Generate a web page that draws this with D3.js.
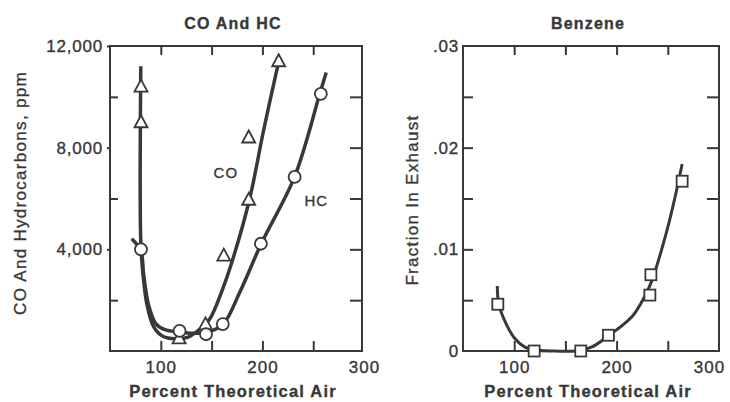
<!DOCTYPE html>
<html>
<head>
<meta charset="utf-8">
<script src="https://cdn.jsdelivr.net/npm/d3@7"></script>
<style>
  html, body { margin: 0; padding: 0; background: #fff; }
  svg { display: block; font-family: "Liberation Sans", Arial, sans-serif; }
</style>
</head>
<body>
<svg id="chart" width="730" height="402"></svg>
<script>
// Values
const airTickLabels = [100, 200, 300];
const airMinorTicks = [100, 150, 200, 250];

const ppmTickLabels = [4000, 8000, 12000];
const ppmInnerLeft = [2000, 6000, 10000];
const ppmInnerRight = [2000, 4000, 6000, 8000, 10000];

const benzTickLabels = [0, 0.01, 0.02, 0.03];
const benzInnerTicks = [0.005, 0.01, 0.015, 0.02, 0.025];

// CO (triangles) and HC (circles), ppm
const coMarkers = [[80.5, 10400], [80.5, 9000], [118, 500], [144, 1050], [162, 3750], [186.5, 8400], [186.5, 5950], [216, 11400]];
const hcMarkers = [[80.5, 4000], [118.5, 790], [144.5, 660], [161, 1060], [198.5, 4220], [231.7, 6850], [257.5, 10120]];

const coCurve = [[80.3, 11200], [80.3, 4300], [82.5, 3000], [86.5, 1800], [93, 950], [102, 580], [114, 480], [127, 550], [139, 880], [148, 1250], [160, 2350], [171, 3630], [187.5, 6000], [201, 8650], [215.5, 11300]];
const hcCurve = [[71.3, 4420], [80.3, 3950], [83, 3050], [88, 1800], [95, 1080], [104, 840], [118, 750], [132, 700], [145, 730], [161.3, 1055], [177.7, 2310], [198.9, 4225], [231.7, 6860], [256.3, 10100], [262.8, 10960]];

// Benzene (squares), fraction in exhaust
const benzMarkers = [[84, 0.0046], [119.5, 0], [165, 0], [192, 0.00155], [232.5, 0.0055], [233.5, 0.0075], [264, 0.0167]];
const benzCurve = [[83.5, 0.0064], [85, 0.0046], [92, 0.0027], [100, 0.0013], [110, 0.0004], [120, 0.0001], [140, 0], [160, 0], [176, 0.0004], [192, 0.0015], [204, 0.0024], [216, 0.0035], [226, 0.0051], [234, 0.0068], [249, 0.0118], [257, 0.0151], [264, 0.0184]];

const ink = "#383838";
const svg = d3.select("#chart");

function stripZero(d) {
    return d === 0 ? "0" : d3.format(".2f")(d).replace(/^0/, "");
}

// scanned print is heavy, so text gets a thin outline
function inked(sel, size, spacing) {
    return sel.attr("fill", ink).attr("stroke", ink).attr("stroke-width", 0.35)
        .attr("font-size", size).attr("letter-spacing", spacing)
        .attr("font-family", "Liberation Sans, Arial, sans-serif");
}

function drawPanel(cfg) {
    const x = d3.scaleLinear().domain(cfg.xDomain).range([cfg.left, cfg.right]);
    const y = d3.scaleLinear().domain(cfg.yDomain).range([cfg.bottom, cfg.top]);
    const g = svg.append("g");

    // inner ticks on all four sides
    const inner = [
        [d3.axisTop(x).tickValues(airMinorTicks).tickSize(-9), `translate(0,${cfg.top})`],
        [d3.axisBottom(x).tickValues(airMinorTicks).tickSize(-10), `translate(0,${cfg.bottom})`],
        [d3.axisLeft(y).tickValues(cfg.innerLeft).tickSize(-cfg.leftTick), `translate(${cfg.left},0)`],
        [d3.axisRight(y).tickValues(cfg.innerRight).tickSize(-12), `translate(${cfg.right},0)`]
    ];
    inner.forEach(([axis, tr]) => {
        g.append("g").attr("transform", tr)
            .call(axis.tickFormat(""))
            .call(a => a.select(".domain").remove())
            .call(a => a.selectAll("line").attr("stroke", ink).attr("stroke-width", 2));
    });

    // labelled x axis
    g.append("g").attr("transform", `translate(0,${cfg.bottom})`)
        .call(d3.axisBottom(x).tickValues(airTickLabels).tickSize(0).tickPadding(10))
        .call(a => a.select(".domain").remove())
        .call(a => inked(a.selectAll("text"), 17, 1)
            .attr("dx", d => d === 300 ? cfg.lastDx : 0));

    // labelled y axis
    g.append("g").attr("transform", `translate(${cfg.left},0)`)
        .call(d3.axisLeft(y).tickValues(cfg.yLabels).tickSize(cfg.outTick).tickPadding(4).tickFormat(cfg.yFormat))
        .call(a => a.select(".domain").remove())
        .call(a => a.selectAll("line").attr("stroke", ink).attr("stroke-width", 2))
        .call(a => inked(a.selectAll("text"), 17, 0.8));

    // frame
    g.append("rect")
        .attr("x", cfg.left).attr("y", cfg.top)
        .attr("width", cfg.right - cfg.left).attr("height", cfg.bottom - cfg.top)
        .attr("fill", "none").attr("stroke", ink).attr("stroke-width", 2);

    // titles
    inked(g.append("text"), 16, 1.2)
        .attr("x", cfg.titleX).attr("y", 29)
        .attr("text-anchor", "middle").attr("font-weight", "bold")
        .text(cfg.title);
    inked(g.append("text"), 16.5, 1.2)
        .attr("x", cfg.titleX).attr("y", 397)
        .attr("text-anchor", "middle").attr("font-weight", "bold")
        .text("Percent Theoretical Air");
    inked(g.append("text"), 17, 1.3)
        .attr("transform", `translate(${cfg.yLabelX},${cfg.yLabelY}) rotate(-90)`)
        .attr("text-anchor", "middle")
        .text(cfg.yLabel);

    return { g, x, y };
}

const line = (x, y) => d3.line().x(d => x(d[0])).y(d => y(d[1])).curve(d3.curveCatmullRom.alpha(0.5));

// ---- CO and HC panel ----
const left = drawPanel({
    left: 110, right: 362, top: 46, bottom: 351,
    xDomain: [50, 298], yDomain: [0, 12000],
    innerLeft: ppmInnerLeft, innerRight: ppmInnerRight, leftTick: 8,
    yLabels: ppmTickLabels, outTick: 3, yFormat: d3.format(","),
    lastDx: 0,
    title: "CO And HC", titleX: 233,
    yLabel: "CO And Hydrocarbons, ppm", yLabelX: 26, yLabelY: 193
});

left.g.append("path").datum(hcCurve)
    .attr("d", line(left.x, left.y))
    .attr("fill", "none").attr("stroke", ink).attr("stroke-width", 3.5);
left.g.append("path").datum(coCurve)
    .attr("d", line(left.x, left.y))
    .attr("fill", "none").attr("stroke", ink).attr("stroke-width", 3.5);

left.g.selectAll(".co").data(coMarkers).enter().append("path")
    .attr("transform", d => `translate(${left.x(d[0])},${left.y(d[1])})`)
    .attr("d", "M0,-7L6.5,5L-6.5,5Z")
    .attr("fill", "#fff").attr("stroke", ink).attr("stroke-width", 1.8);
left.g.selectAll(".hc").data(hcMarkers).enter().append("circle")
    .attr("cx", d => left.x(d[0])).attr("cy", d => left.y(d[1])).attr("r", 6)
    .attr("fill", "#fff").attr("stroke", ink).attr("stroke-width", 1.8);

inked(left.g.append("text"), 15, 1)
    .attr("x", left.x(164)).attr("y", left.y(7000) + 5)
    .attr("text-anchor", "middle").text("CO");
inked(left.g.append("text"), 15, 1)
    .attr("x", left.x(253)).attr("y", left.y(5900) + 5)
    .attr("text-anchor", "middle").text("HC");

// ---- Benzene panel ----
const right = drawPanel({
    left: 463, right: 719, top: 46, bottom: 351,
    xDomain: [50, 300], yDomain: [0, 0.03],
    innerLeft: benzInnerTicks, innerRight: benzInnerTicks, leftTick: 10,
    yLabels: benzTickLabels, outTick: 0, yFormat: stripZero,
    lastDx: -10,
    title: "Benzene", titleX: 588,
    yLabel: "Fraction In Exhaust", yLabelX: 418, yLabelY: 200
});

right.g.append("path").datum(benzCurve)
    .attr("d", line(right.x, right.y))
    .attr("fill", "none").attr("stroke", ink).attr("stroke-width", 3);

right.g.selectAll(".bz").data(benzMarkers).enter().append("rect")
    .attr("x", d => right.x(d[0]) - 5.5).attr("y", d => right.y(d[1]) - 5.5)
    .attr("width", 11).attr("height", 11)
    .attr("fill", "#fff").attr("stroke", ink).attr("stroke-width", 1.8);
</script>
</body>
</html>
